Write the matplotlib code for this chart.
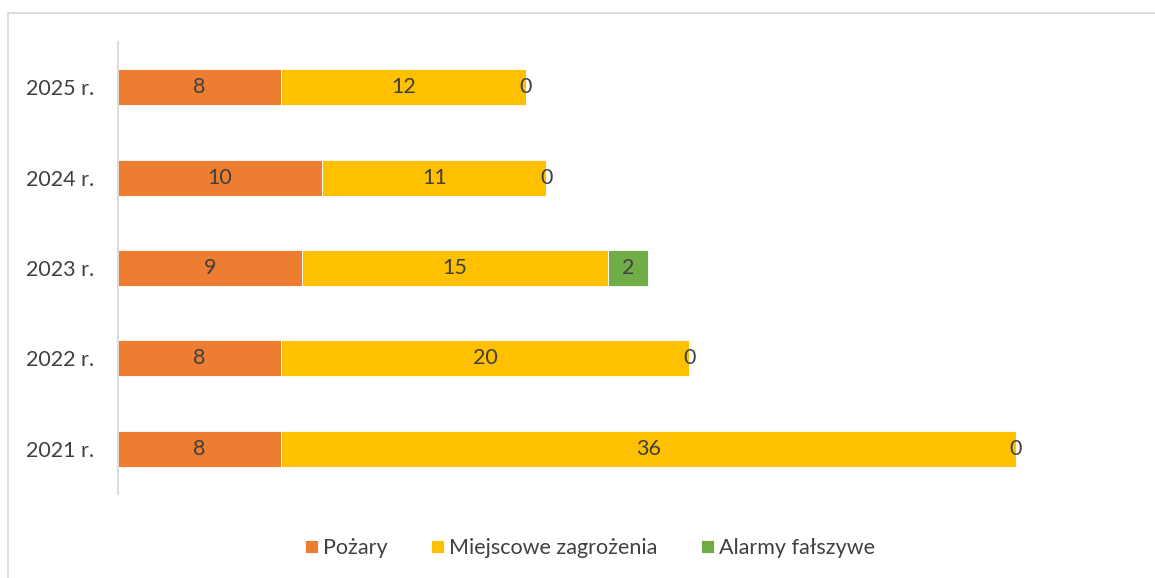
import numpy as np
import matplotlib.pyplot as plt
from matplotlib.patches import Rectangle

# Data
years = ['2021 r.', '2022 r.', '2023 r.', '2024 r.', '2025 r.']
pozary = [8, 8, 9, 10, 8]
miejscowe = [36, 20, 15, 11, 12]
alarmy = [0, 0, 2, 0, 0]

series_names = ['Pożary', 'Miejscowe zagrożenia', 'Alarmy fałszywe']
colors = ['#ED7D31', '#FFC000', '#70AD47']
text_color = '#404040'

plt.rcParams['font.family'] = ['Lato', 'DejaVu Sans']
FS = 15.5

fig = plt.figure(figsize=(11.55, 5.78), dpi=100)
ax = fig.add_axes([118 / 1155, 1 - 494 / 578, (1138 - 118) / 1155, 452 / 578])

# outer chart border (light gray)
fig.patches.append(Rectangle((8 / 1155, -0.1), 1.2, 1 - 13.5 / 578 + 0.1,
                             transform=fig.transFigure, fill=False,
                             edgecolor='#D9D9D9', linewidth=1.3))

y = np.arange(len(years))
left = np.zeros(len(years))
for vals, name, col in zip([pozary, miejscowe, alarmy], series_names, colors):
    vals = np.array(vals, dtype=float)
    ax.barh(y, vals, left=left, height=0.4, color=col, label=name,
            edgecolor='white', linewidth=0.6)
    for yi, l, v in zip(y, left, vals):
        ax.text(l + v / 2, yi, f'{int(v)}', ha='center', va='center',
                fontsize=FS, color=text_color)
    left += vals

ax.set_xlim(0, 50)
ax.set_ylim(-0.5, 4.5)
ax.set_yticks(y)
ax.set_yticklabels(years, fontsize=FS, color=text_color)
ax.tick_params(axis='y', length=0, pad=17)
ax.set_xticks([])
for s in ['top', 'right', 'bottom']:
    ax.spines[s].set_visible(False)
ax.spines['left'].set_color('#D9D9D9')
ax.spines['left'].set_linewidth(1.3)

leg = fig.legend(loc='center', bbox_to_anchor=(590 / 1155, 1 - 548 / 578),
                 ncol=3, frameon=False, fontsize=FS, handlelength=0.6,
                 handleheight=0.6, handletextpad=0.25, columnspacing=2.0)
for t in leg.get_texts():
    t.set_color(text_color)

fig.savefig('out.png', dpi=100)
